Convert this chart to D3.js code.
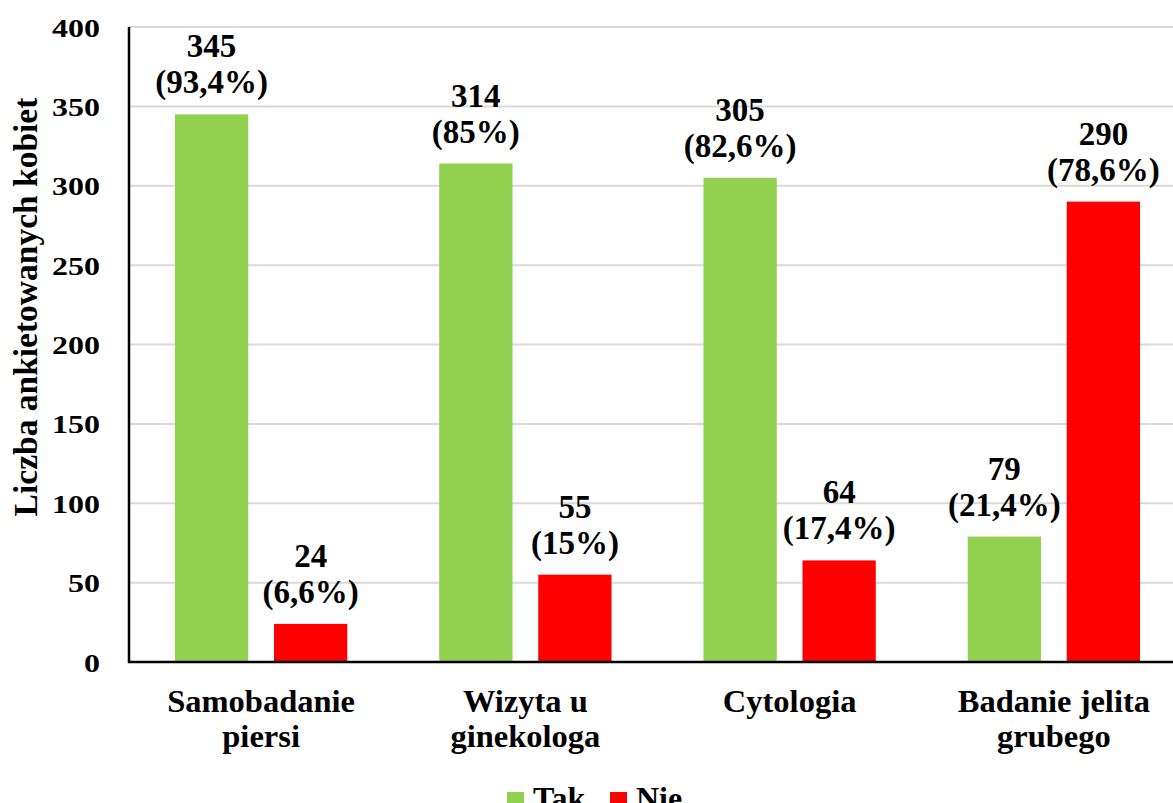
<!DOCTYPE html>
<html>
<head>
<meta charset="utf-8">
<script src="https://cdn.jsdelivr.net/npm/d3@7"></script>
<style>
  body { margin: 0; background: #fff; }
  text { font-family: "Liberation Serif", "Times New Roman", serif; font-weight: bold; fill: #000; }
</style>
</head>
<body>
<div id="chart"></div>
<script>
// chart data
var categories = [["Samobadanie", "piersi"], ["Wizyta u", "ginekologa"], ["Cytologia"], ["Badanie jelita", "grubego"]];
var series = ["Tak", "Nie"];
var takValues = [345, 314, 305, 79];
var nieValues = [24, 55, 64, 290];
var takPercent = ["93,4%", "85%", "82,6%", "21,4%"];
var niePercent = ["6,6%", "15%", "17,4%", "78,6%"];
var yTicks = [0, 50, 100, 150, 200, 250, 300, 350, 400];
var colors = {"Tak": "#92D050", "Nie": "#FF0000"};

var width = 1173, height = 803;
var margin = {top: 27, left: 129, bottom: 141};
var plotRight = 1186;   // plot runs a little past the picture edge

var svg = d3.select("#chart").append("svg")
    .attr("width", width)
    .attr("height", height);

var x = d3.scaleBand()
    .domain(d3.range(categories.length))
    .range([margin.left, plotRight]);

// two bars inside each category, with outer space
var x1 = d3.scaleBand()
    .domain(series)
    .range([x.bandwidth() * 0.174, x.bandwidth() * 0.826])
    .paddingInner(0.26);

var y = d3.scaleLinear()
    .domain([0, 400])
    .range([height - margin.bottom, margin.top]);

//gridlines
svg.append("g").selectAll("line")
    .data(yTicks.filter(function(d){ return d > 0; }))
    .enter().append("line")
    .attr("x1", margin.left)
    .attr("x2", width)
    .attr("y1", function(d){ return y(d); })
    .attr("y2", function(d){ return y(d); })
    .attr("stroke", "#d9d9d9")
    .attr("stroke-width", 2);

// build rows for bars
var rows = [];
categories.forEach(function(c, i){
    rows.push({cat: i, s: "Tak", v: takValues[i], p: takPercent[i]});
    rows.push({cat: i, s: "Nie", v: nieValues[i], p: niePercent[i]});
});

svg.append("g").selectAll("rect")
    .data(rows)
    .enter().append("rect")
    .attr("x", function(d){ return x(d.cat) + x1(d.s); })
    .attr("y", function(d){ return y(d.v); })
    .attr("width", x1.bandwidth())
    .attr("height", function(d){ return y(0) - y(d.v); })
    .attr("fill", function(d){ return colors[d.s]; });

// data labels: value on top line, percent below
var labels = svg.append("g").selectAll("text")
    .data(rows)
    .enter().append("text")
    .attr("text-anchor", "middle")
    .attr("font-size", 33)
    .attr("x", function(d){ return x(d.cat) + x1(d.s) + x1.bandwidth() / 2; })
    .attr("y", function(d){ return y(d.v) - 57; });
labels.append("tspan").text(function(d){ return d.v; });
labels.append("tspan")
    .attr("x", function(d){ return x(d.cat) + x1(d.s) + x1.bandwidth() / 2; })
    .attr("dy", 36)
    .text(function(d){ return "(" + d.p + ")"; });

// y axis
var yAxis = svg.append("g")
    .attr("transform", "translate(" + margin.left + ",0)")
    .call(d3.axisLeft(y).tickValues(yTicks).tickSize(0));
yAxis.select(".domain").remove();
yAxis.selectAll("text")
    .attr("x", 0)
    .attr("dy", null)
    .attr("y", 9)
    .attr("font-size", 25)
    .attr("font-family", null)
    .attr("fill", "#000")
    .attr("transform", "translate(-29,0) scale(1.28,1)")
    .attr("text-anchor", "end");

svg.append("line")
    .attr("x1", margin.left).attr("x2", margin.left)
    .attr("y1", y(400)).attr("y2", y(0) + 1)
    .attr("stroke", "#000").attr("stroke-width", 2.5);
svg.append("line")
    .attr("x1", margin.left - 1).attr("x2", width)
    .attr("y1", y(0)).attr("y2", y(0))
    .attr("stroke", "#000").attr("stroke-width", 2.5);

// y title
svg.append("text")
    .attr("transform", "translate(37,307) rotate(-90)")
    .attr("text-anchor", "middle")
    .attr("font-size", 33.5)
    .text("Liczba ankietowanych kobiet");

// category labels
var catText = svg.append("g").selectAll("text")
    .data(categories)
    .enter().append("text")
    .attr("text-anchor", "middle")
    .attr("font-size", 32.5)
    .attr("y", y(0) + 50);
catText.selectAll("tspan")
    .data(function(d, i){ return d.map(function(t){ return {t: t, i: i}; }); })
    .enter().append("tspan")
    .attr("x", function(d){ return x(d.i) + x.bandwidth() / 2; })
    .attr("dy", function(d, j){ return j == 0 ? 0 : 35; })
    .text(function(d){ return d.t; });

// legend (cut at the bottom edge, as in the source)
var legendX = [507, 610];
var legend = svg.append("g").selectAll("g")
    .data(series)
    .enter().append("g")
    .attr("transform", function(d, i){ return "translate(" + legendX[i] + ",792)"; });
legend.append("rect")
    .attr("width", 17).attr("height", 17)
    .attr("fill", function(d){ return colors[d]; });
legend.append("text")
    .attr("x", 26)
    .attr("y", 17)
    .attr("font-size", 32)
    .text(function(d){ return d; });
</script>
</body>
</html>
